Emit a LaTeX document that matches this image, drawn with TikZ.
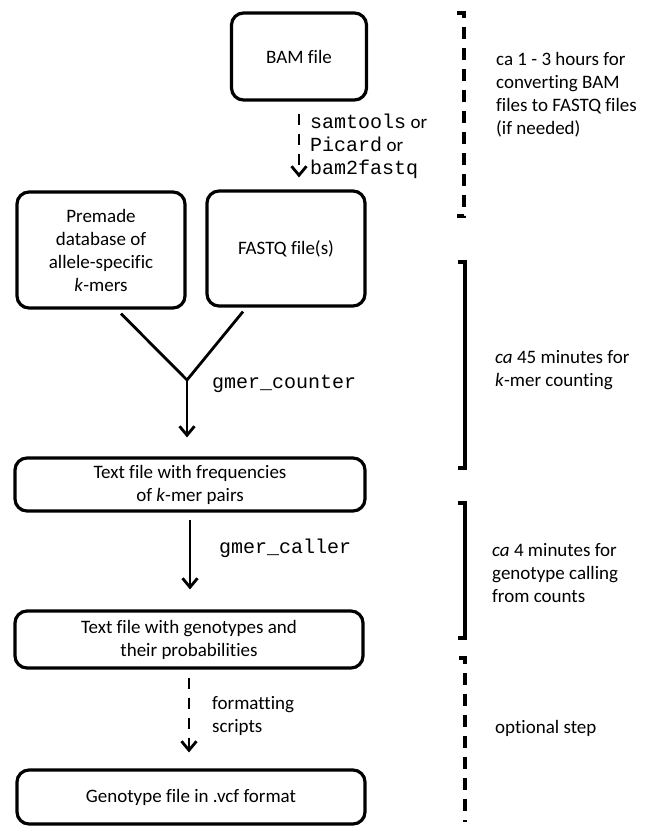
\documentclass[tikz,border=0pt]{standalone}
\usepackage{fontspec}
\setmainfont{Carlito}[Ligatures=NoCommon]
\setmonofont{Liberation Mono}
\usetikzlibrary{arrows.meta}
\newcommand{\gcode}[1]{{\fontsize{20}{23.5}\selectfont\ttfamily #1}}

\begin{document}
\begin{tikzpicture}[
		x=1pt, y=-1pt,
		every node/.style={font=\fontsize{19}{23}\selectfont, inner sep=0pt},
		box/.style={draw, line width=3.2pt, rounded corners=12pt, align=center},
		flow/.style={line width=2.8pt, -{Straight Barb[length=9pt,width=15pt]}},
		dflow/.style={flow, dash pattern=on 11pt off 9pt},
		span/.style={line width=3.2pt},
		dspan/.style={span, dash pattern=on 12pt off 9pt},
		note/.style={anchor=west, align=left}
		]
		\useasboundingbox (0,0) rectangle (649,828);
		\node[box, minimum width=135pt, minimum height=87pt] (bam) at (299,56.5) {BAM file};
		\node[box, minimum width=168pt, minimum height=116pt] (premade) at (101,250) {Premade\\database of\\allele-specific\\\textit{k}-mers};
		\node[box, minimum width=158pt, minimum height=115pt] (fastq) at (286,248.5) {FASTQ file(s)};
		\node[box, minimum width=350pt, minimum height=53pt] (freq) at (190,484.5) {Text file with frequencies\\of \textit{k}-mer pairs};
		\node[box, minimum width=348pt, minimum height=57pt] (geno) at (189,639.5) {Text file with genotypes and\\their probabilities};
		\node[box, minimum width=348pt, minimum height=54pt] (vcf) at (191,797) {Genotype file in .vcf format};
		\coordinate (join) at (187,380);
		
		\draw[dflow, shorten <=12pt, shorten >=12pt] (bam.south) -- (bam.south |- fastq.north);
		\draw[line width=2.8pt] ([xshift=20pt,yshift=-4pt]premade.south) -- (join) -- ([xshift=-43pt,yshift=-4pt]fastq.south);
		\draw[flow, shorten >=19pt] (join) -- (join |- freq.north);
		\draw[flow, shorten <=7pt, shorten >=20pt] (freq.south) -- (freq.south |- geno.north);
		\draw[dflow, shorten <=8pt, shorten >=16pt] (geno.south) -- (geno.south |- vcf.north);
		
		\node[note] (convert) at (310,146) {\gcode{samtools} or\\\gcode{Picard} or\\\gcode{bam2fastq}};
		\node[note] (counter) at (212,384) {\gcode{gmer\_counter}};
		\node[note] (caller) at (219,548) {\gcode{gmer\_caller}};
		\node[note] (format) at (212,716) {formatting\\scripts};
		
		\draw[dspan] (457,13) -- (464,13) -- (464,216) -- (457,216);
		\draw[span] (458,262) -- (465,262) -- (465,468) -- (458,468);
		\draw[span] (458,503) -- (465,503) -- (465,638) -- (458,638);
		\draw[dspan] (459,658) -- (465,658) -- (465,822);
		
		\node[note] (hours) at (496,95) {ca 1 - 3 hours for\\converting BAM\\files to FASTQ files\\(if needed)};
		\node[note] (minutes) at (495,370) {\textit{ca} 45 minutes for\\\textit{k}-mer counting};
		\node[note] (calling) at (492,573) {\textit{ca} 4 minutes for\\genotype calling\\from counts};
		\node[note] (optional) at (495,728) {optional step};
		\end{tikzpicture}
\end{document}
